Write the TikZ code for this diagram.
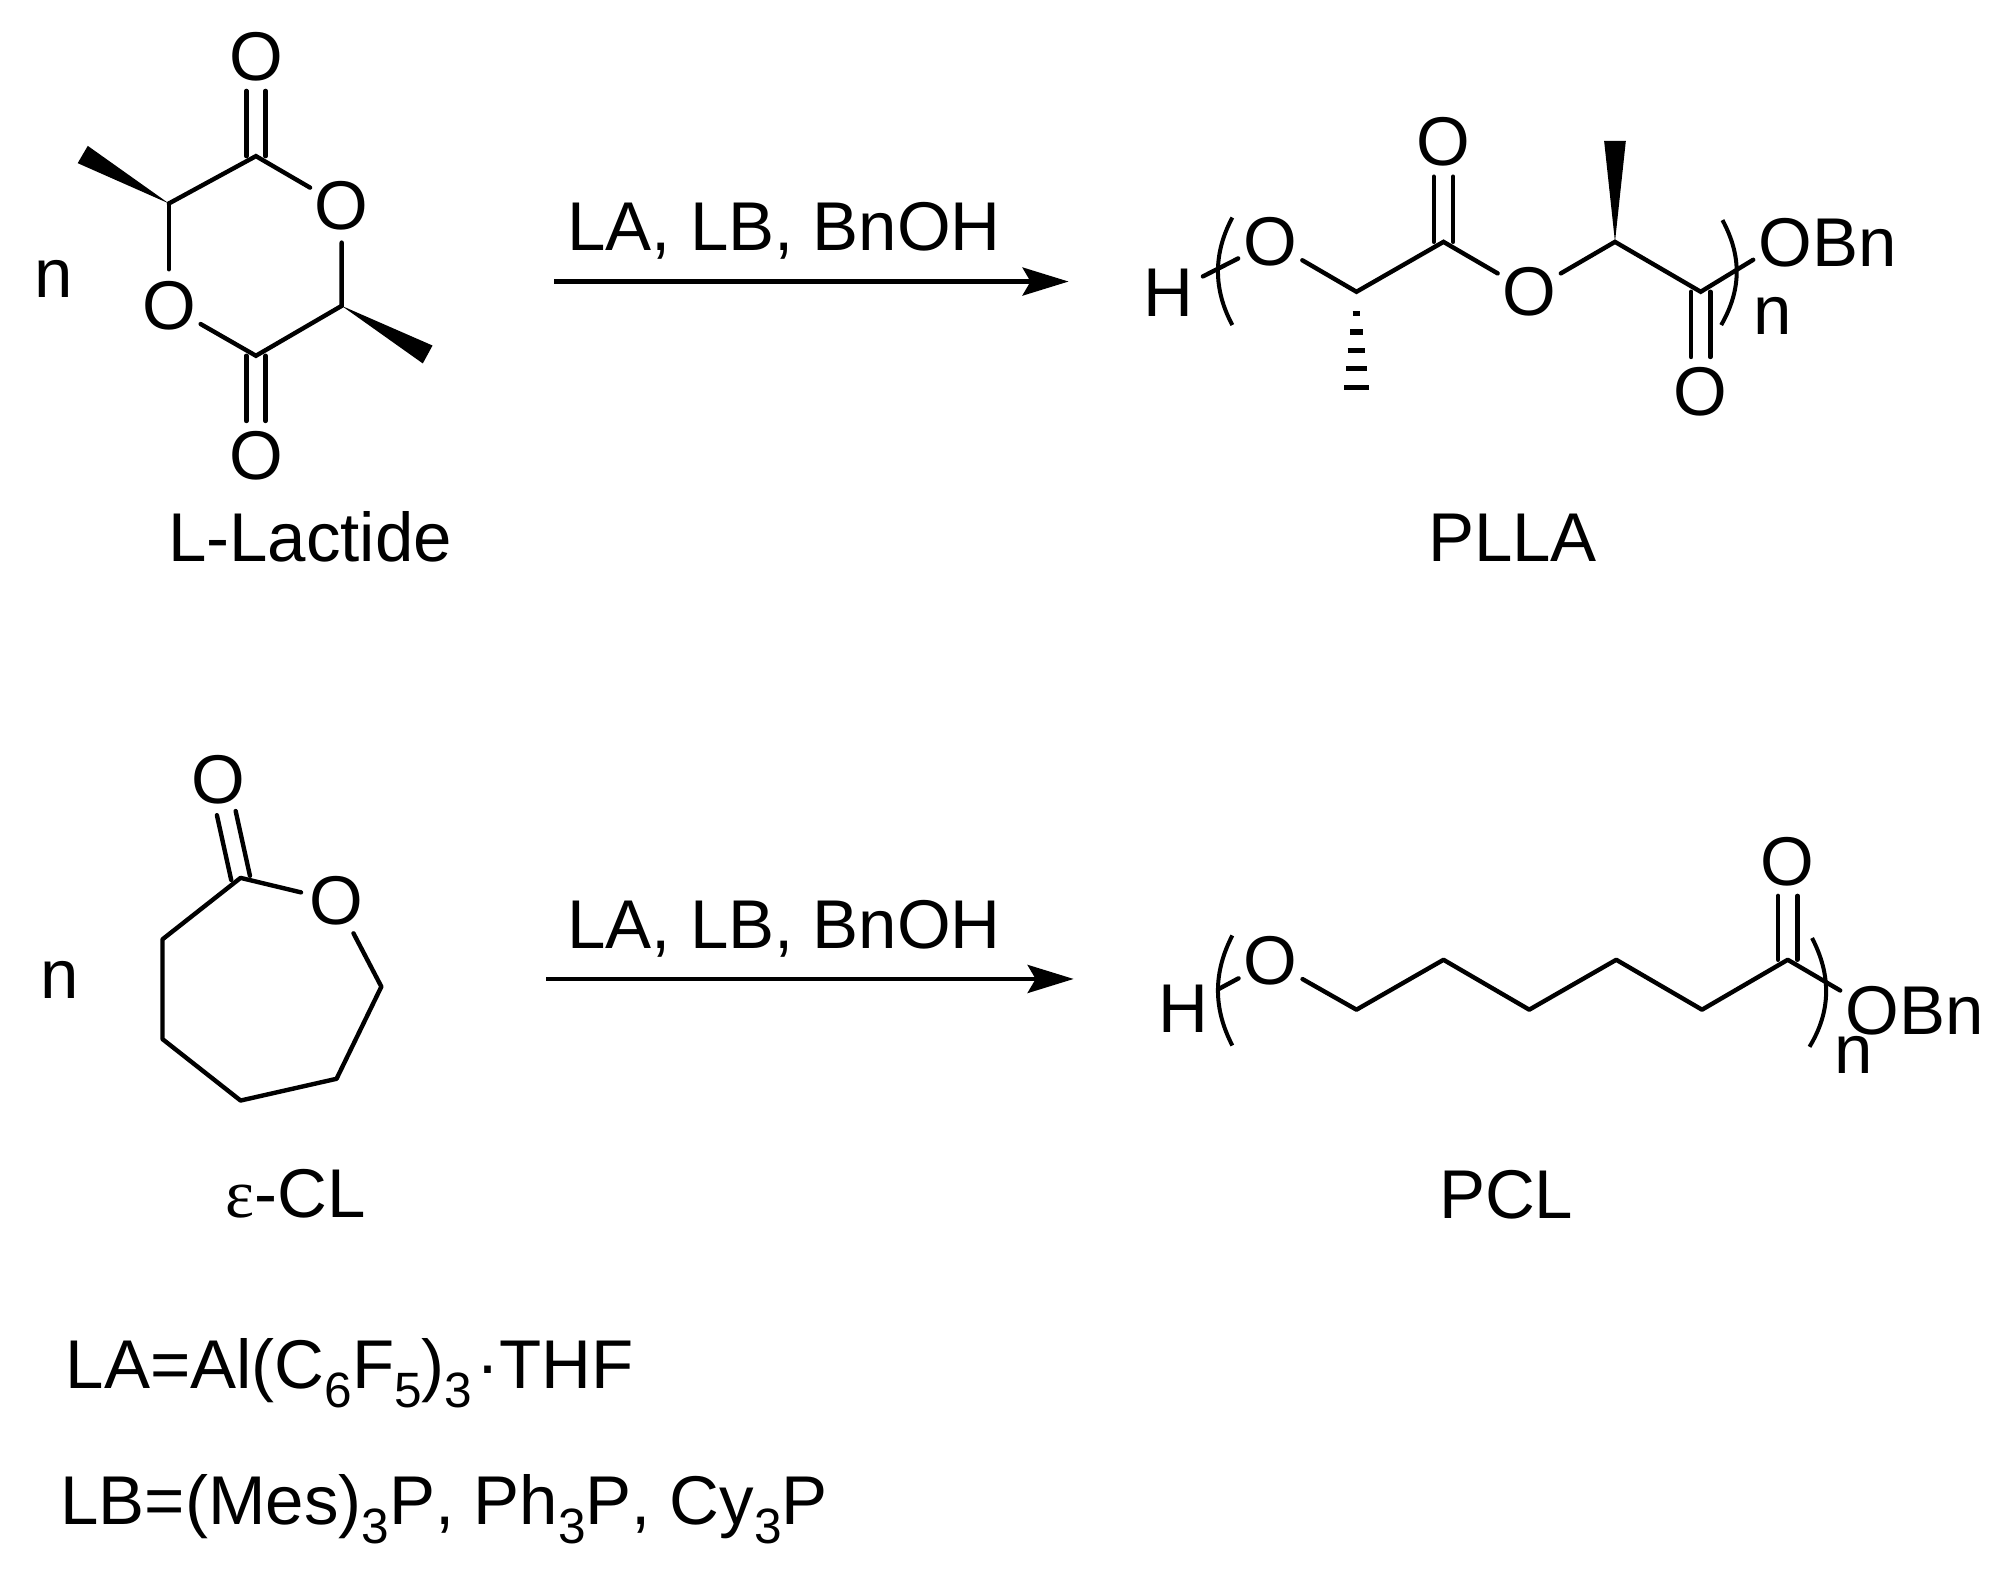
\documentclass[tikz,border=0pt]{standalone}
\usepackage{fontspec}
\setmainfont[Kerning=Off]{Liberation Sans}
\newfontfamily\greekserif{Liberation Serif}
\usetikzlibrary{calc,arrows.meta}
\newcommand\chemsub[1]{\raisebox{-9.5pt}{\fontsize{24.8}{28}\selectfont #1}}
\tikzset{
  x=0.6397pt,y=-0.6397pt,
  bond/.style={line width=2.2pt,line cap=round,line join=miter},
  bracket/.style={line width=2pt},
  rxnarrow/.style={line width=2.2pt,-{Stealth[length=23pt,width=14pt,inset=4pt]}},
  wedge/.style={fill=black,draw=none},
  hash/.style={line width=2.8pt},
  atom/.style={circle,minimum size=34.7pt,inner sep=0pt,font=\fontsize{34.5}{40}\selectfont},
  lbl/.style={anchor=base west,inner sep=0pt,font=\fontsize{34.5}{40}\selectfont},
  lblc/.style={anchor=base,inner sep=0pt,font=\fontsize{34.5}{40}\selectfont},
}
\newcommand\dblbond[3]{% from a to an atom node, offset lines
  \draw[bond,shorten >=17.3pt] ($(#1.center)!#3!90:(#2.center)$) -- ($(#2.center)!#3!-90:(#1.center)$);
  \draw[bond,shorten >=17.3pt] ($(#1.center)!#3!-90:(#2.center)$) -- ($(#2.center)!#3!90:(#1.center)$);
}
\begin{document}
\begin{tikzpicture}
\useasboundingbox[fill=white] (0,0) rectangle (1566,1233.9);
% ---------- L-lactide
\node[atom] (lO1) at (200,44) {O};
\node[atom] (lO2) at (267,161) {O};
\node[atom] (lO3) at (132,239) {O};
\node[atom] (lO4) at (200,356) {O};
\coordinate (lC1) at (200,122);
\coordinate (lC2) at (132,159);
\coordinate (lC3) at (200,278);
\coordinate (lC4) at (267,239);
\coordinate (lMa) at (60.7,127.5);
\coordinate (lMb) at (68.6,114);
\coordinate (lMc) at (338,270);
\coordinate (lMd) at (330.4,284);
\dblbond{lC1}{lO1}{4.8pt}
\dblbond{lC3}{lO4}{4.8pt}
\draw[bond] (lC2) -- (lC1) -- (lO2);
\draw[bond] (lC2) -- (lO3);
\draw[bond] (lO3) -- (lC3) -- (lC4) -- (lO2);
\fill[wedge] (lC2) -- (lMa) -- (lMb) -- cycle;
\fill[wedge] (lC4) -- (lMc) -- (lMd) -- cycle;
\node[lbl] (ln) at (27,232.5) {n};
\node[lbl] (lname) at (131,439) {L-Lactide};
% ---------- arrow 1
\node[lbl] (cond1) at (443,196) {LA, LB, BnOH};
\coordinate (a1s) at (433,220);
\coordinate (a1e) at (835,220);
\draw[rxnarrow] (a1s) -- (a1e);
% ---------- PLLA
\node[lbl] (pH) at (893,247) {H};
\node[atom] (pO1) at (993,189) {O};
\node[atom] (pO2) at (1128,111) {O};
\node[atom] (pO3) at (1195,228) {O};
\node[atom] (pO4) at (1329,306) {O};
\coordinate (pC1) at (1060,228);
\coordinate (pC2) at (1128,189);
\coordinate (pC3) at (1262,189);
\coordinate (pC4) at (1329,228);
\coordinate (pTail) at (940,216);
\coordinate (pHead) at (1370,203);
\coordinate (pWa) at (1253.5,110);
\coordinate (pWb) at (1270.5,110);
\dblbond{pC2}{pO2}{4.8pt}
\dblbond{pC4}{pO4}{4.8pt}
\draw[bond] (pTail) -- (pO1);
\draw[bond] (pO1) -- (pC1) -- (pC2) -- (pO3);
\draw[bond] (pO3) -- (pC3) -- (pC4) -- (pHead);
\fill[wedge] (pC3) -- (pWa) -- (pWb) -- cycle;
\foreach \yy/\hw in {245/3,259.6/5,274/7,288/8,302.8/9.5}
  \draw[hash] (1060-\hw,\yy) -- (1060+\hw,\yy);
\coordinate (pBLa) at (963,170);
\coordinate (pBLb) at (963,254);
\coordinate (pBRa) at (1346,172);
\coordinate (pBRb) at (1345,254);
\draw[bracket] (pBLa) .. controls (948,198) and (948,226) .. (pBLb);
\draw[bracket] (pBRa) .. controls (1361,200) and (1361,226) .. (pBRb);
\node[lbl] (pOBn) at (1374,208.5) {OBn};
\node[lbl] (pn) at (1370,261) {n};
\node[lblc] (pname) at (1182,439) {PLLA};
% ---------- caprolactone
\node[atom] (cO1) at (171,609) {O};
\node[atom] (cO2) at (263,704) {O};
\coordinate (cC1) at (188,686);
\coordinate (cC2) at (127,734);
\coordinate (cC3) at (127,812);
\coordinate (cC4) at (188,860);
\coordinate (cC5) at (263,843);
\coordinate (cC6) at (298,771);
\dblbond{cC1}{cO1}{4.8pt}
\draw[bond,line join=round] (cO2) -- (cC1) -- (cC2) -- (cC3) -- (cC4) -- (cC5) -- (cC6) -- (cO2);
\node[lbl] (cn) at (31,780) {n};
\node[lblc] (cname) at (231,951) {{\greekserif ε}-CL};
% ---------- arrow 2
\node[lbl] (cond2) at (443,741) {LA, LB, BnOH};
\coordinate (a2s) at (427,765);
\coordinate (a2e) at (839,765);
\draw[rxnarrow] (a2s) -- (a2e);
% ---------- PCL
\node[lbl] (qH) at (905,807) {H};
\node[atom] (qO1) at (993,751) {O};
\node[atom] (qO2) at (1397,673) {O};
\coordinate (qC1) at (1060,789);
\coordinate (qC2) at (1128,750);
\coordinate (qC3) at (1195,789);
\coordinate (qC4) at (1263,750);
\coordinate (qC5) at (1330,789);
\coordinate (qC6) at (1397,750);
\coordinate (qTail) at (952,773);
\coordinate (qHead) at (1438,774);
\dblbond{qC6}{qO2}{4.8pt}
\draw[bond] (qTail) -- (qO1);
\draw[bond,line join=round] (qO1) -- (qC1) -- (qC2) -- (qC3) -- (qC4) -- (qC5) -- (qC6) -- (qHead);
\coordinate (qBLa) at (963,731);
\coordinate (qBLb) at (963,817);
\coordinate (qBRa) at (1416,733);
\coordinate (qBRb) at (1414,818);
\draw[bracket] (qBLa) .. controls (948,760) and (948,788) .. (qBLb);
\draw[bracket] (qBRa) .. controls (1431,762) and (1431,790) .. (qBRb);
\node[lbl] (qOBn) at (1442,808) {OBn};
\node[lbl] (qn) at (1433,839) {n};
\node[lblc] (qname) at (1177,952) {PCL};
% ---------- definitions
\node[lbl] (defLA) at (51,1085) {LA=Al(C\chemsub{6}F\chemsub{5})\chemsub{3}\hspace{2pt}·THF};
\node[lbl] (defLB) at (47,1191) {LB=(Mes)\chemsub{3}P, Ph\chemsub{3}P, Cy\chemsub{3}P};
\end{tikzpicture}
\end{document}
